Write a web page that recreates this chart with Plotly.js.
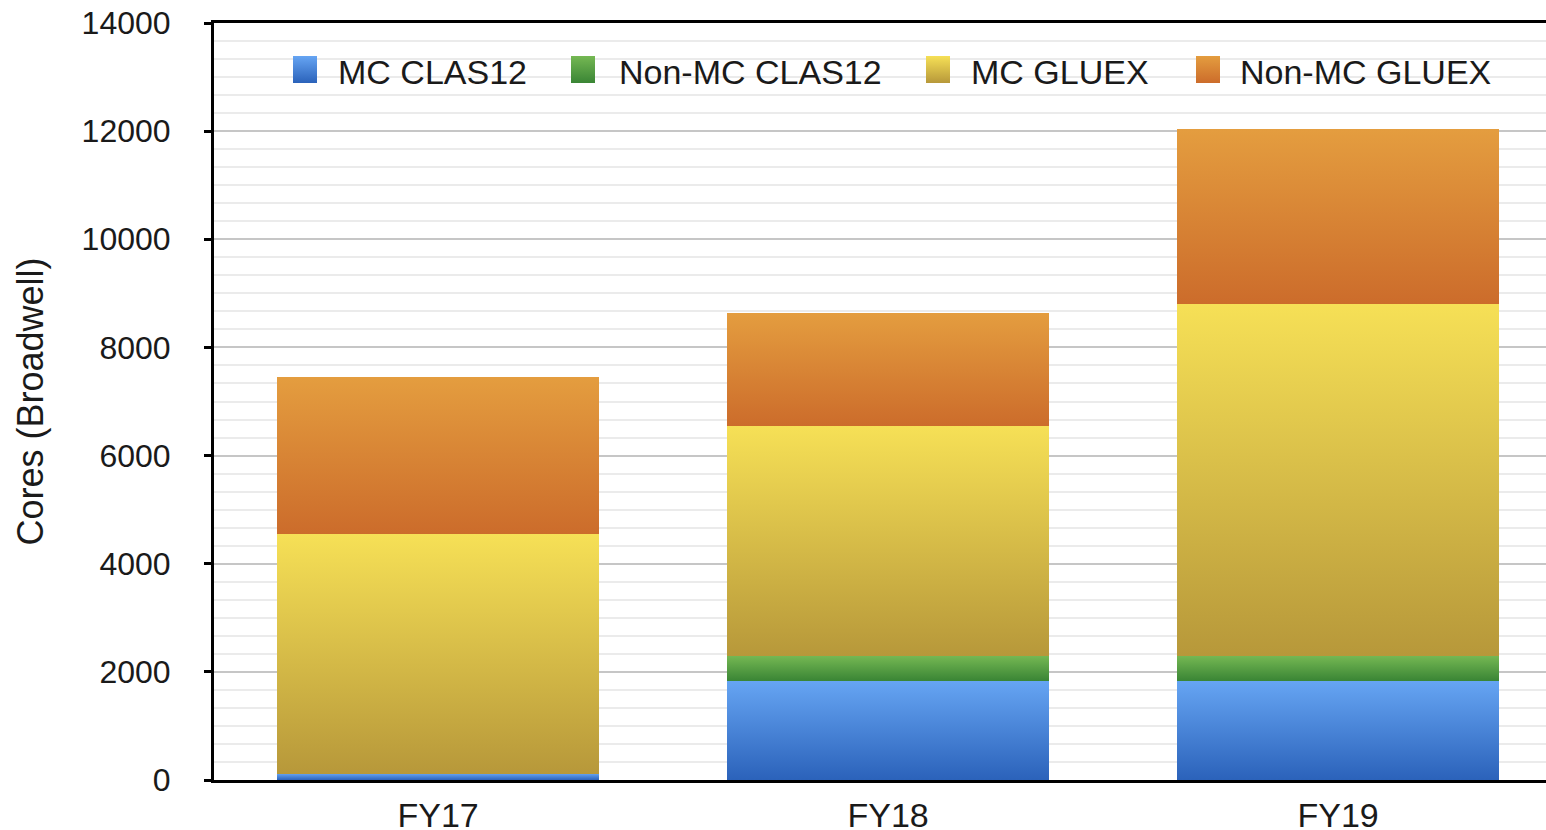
<!DOCTYPE html>
<html>
<head>
<meta charset="utf-8">
<script src="https://cdn.plot.ly/plotly-3.0.1.min.js"></script>
<style>
  html, body { margin: 0; padding: 0; background: #ffffff; }
  #chart { width: 1546px; height: 830px; }
</style>
</head>
<body>
<div id="chart"></div>
<script>
// ---- data ----
var categories = ['FY17', 'FY18', 'FY19'];
var seriesNames = ['MC CLAS12', 'Non-MC CLAS12', 'MC GLUEX', 'Non-MC GLUEX'];
var mcClas12    = [120, 1835, 1835];
var nonMcClas12 = [0, 460, 460];
var mcGluex     = [4430, 4250, 6510];
var nonMcGluex  = [2900, 2090, 3230];
var yTickVals   = [0, 2000, 4000, 6000, 8000, 10000, 12000, 14000];
var yTickText   = ['0', '2000', '4000', '6000', '8000', '10000', '12000', '14000'];

// ---- styles ----
var baseColors = ['#4784d8', '#579e43', '#d8bd48', '#d98535'];
var gradStops = [
  ['#66a5f3', '#2b62ba'],
  ['#75b853', '#3a8535'],
  ['#f6e056', '#b7983a'],
  ['#e49d3f', '#cc6c2b']
];
var fontFamily = '"Liberation Sans", Arial, Helvetica, sans-serif';
var textColor = '#1a1a1a';

var seriesValues = [mcClas12, nonMcClas12, mcGluex, nonMcGluex];
var traces = seriesValues.map(function (vals, i) {
  return {
    type: 'bar',
    name: seriesNames[i],
    x: categories,
    y: vals,
    marker: { color: baseColors[i], line: { width: 0 } },
    hoverinfo: 'skip'
  };
});

var layout = {
  width: 1546,
  height: 830,
  margin: { l: 214, r: 0, t: 23, b: 50, pad: 0 },
  paper_bgcolor: '#ffffff',
  plot_bgcolor: '#ffffff',
  barmode: 'stack',
  bargap: 0.284,
  font: { family: fontFamily, color: textColor, size: 32 },
  showlegend: true,
  legend: {
    orientation: 'h',
    traceorder: 'normal',
    x: 0.05, y: 0.99,
    xanchor: 'left', yanchor: 'top',
    bgcolor: 'rgba(0,0,0,0)',
    borderwidth: 0,
    font: { family: fontFamily, size: 34, color: textColor }
  },
  xaxis: {
    type: 'category',
    range: [-0.498, 2.462],
    showline: true,
    linecolor: '#000000',
    linewidth: 3,
    mirror: true,
    ticks: '',
    showgrid: false,
    zeroline: false,
    tickfont: { family: fontFamily, size: 34, color: textColor },
    ticklabelstandoff: 3,
    fixedrange: true
  },
  yaxis: {
    range: [0, 14000],
    tickmode: 'array',
    tickvals: yTickVals,
    ticktext: yTickText,
    showline: true,
    linecolor: '#000000',
    linewidth: 3,
    ticks: 'outside',
    ticklen: 7,
    tickwidth: 3,
    tickcolor: '#000000',
    showgrid: true,
    gridcolor: '#c6c6c6',
    gridwidth: 2,
    zeroline: false,
    tickfont: { family: fontFamily, size: 32, color: textColor },
    ticklabelstandoff: 27,
    minor: {
      dtick: 2000 / 6,
      tick0: 0,
      showgrid: true,
      gridcolor: '#ebebeb',
      gridwidth: 2,
      ticks: ''
    },
    title: {
      text: 'Cores (Broadwell)',
      font: { family: fontFamily, size: 36, color: textColor },
      standoff: 28
    },
    fixedrange: true
  }
};

var gd = document.getElementById('chart');
Plotly.newPlot(gd, traces, layout, { staticPlot: true, displayModeBar: false }).then(function () {
  var ns = 'http://www.w3.org/2000/svg';
  var svg = gd.querySelector('svg.main-svg');
  var defs = svg.querySelector('defs');
  if (!defs) { defs = document.createElementNS(ns, 'defs'); svg.insertBefore(defs, svg.firstChild); }
  gradStops.forEach(function (st, i) {
    var lg = document.createElementNS(ns, 'linearGradient');
    lg.setAttribute('id', 'bargrad' + i);
    lg.setAttribute('x1', '0'); lg.setAttribute('y1', '0');
    lg.setAttribute('x2', '0'); lg.setAttribute('y2', '1');
    [[0, st[0]], [1, st[1]]].forEach(function (s) {
      var stop = document.createElementNS(ns, 'stop');
      stop.setAttribute('offset', String(s[0]));
      stop.setAttribute('stop-color', s[1]);
      lg.appendChild(stop);
    });
    defs.appendChild(lg);
  });

  // bar fills
  var barTraces = gd.querySelectorAll('.barlayer .trace');
  barTraces.forEach(function (t, i) {
    t.querySelectorAll('path').forEach(function (p) {
      p.style.fill = 'url(#bargrad' + i + ')';
    });
  });

  // legend layout
  var textTargets = [338, 619, 971, 1240];
  var squareTargets = [293, 571, 926, 1196];
  var scroll = gd.querySelector('.legend .scrollbox');
  if (scroll) scroll.removeAttribute('clip-path');
  var items = gd.querySelectorAll('.legend .traces');
  items.forEach(function (item) {
    var txt = item.querySelector('text.legendtext');
    var idx = seriesNames.indexOf(txt.textContent);
    if (idx < 0) return;
    var rect = txt.getBoundingClientRect();
    var dx = textTargets[idx] - rect.left;
    var dy = 52.5 - rect.top;
    var tr = item.getAttribute('transform') || '';
    var m = /translate\(\s*([-\d.e]+)[ ,]+([-\d.e]+)\s*\)/.exec(tr);
    var x0 = m ? parseFloat(m[1]) : 0, y0 = m ? parseFloat(m[2]) : 0;
    item.setAttribute('transform', 'translate(' + (x0 + dx) + ',' + (y0 + dy) + ')');
    var p = item.querySelector('.legendpoints path');
    if (p) {
      p.setAttribute('d', 'M12,13.5H-12V-13.5H12Z');
      p.style.fill = 'url(#bargrad' + idx + ')';
      p.style.stroke = 'none';
      var existing = p.getAttribute('transform') || '';
      var pr = p.getBoundingClientRect();
      p.setAttribute('transform', 'translate(' + (squareTargets[idx] - pr.left) + ',' + (56 - pr.top) + ') ' + existing);
    }
  });
});
</script>
</body>
</html>
